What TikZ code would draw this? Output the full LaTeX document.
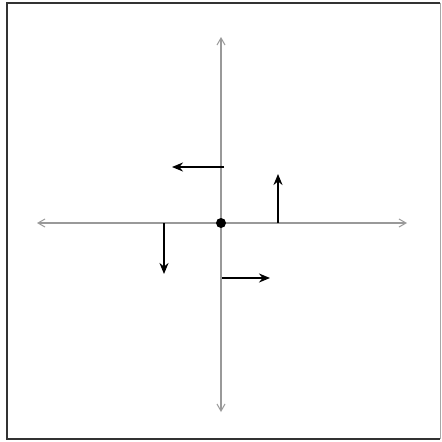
\documentclass[tikz,border=0pt]{standalone}
\usetikzlibrary{arrows.meta}
\begin{document}
\begin{tikzpicture}[x=1pt,y=-1pt,
  axis/.style={draw=black!40,line width=1.2pt,{Straight Barb[length=7pt,width=8pt,line width=1pt]}-{Straight Barb[length=7pt,width=8pt,line width=1pt]}},
  vec/.style={draw=black,line width=2.8pt,-{Stealth[length=11pt,width=9pt]}},
  dot/.style={circle,fill=black,inner sep=0pt,minimum size=10pt}]
\useasboundingbox (0,0) rectangle (442,442);
\fill[white] (0,0) rectangle (442,442);
\draw[black!80,line width=2pt] (440,2.5) -- (7,2.5) -- (7,439) -- (440,439);
\draw[black!35,line width=1pt] (440,2.5) -- (440,439);
% axes
\coordinate (xl) at (37,223);
\coordinate (xr) at (407,223);
\coordinate (yt) at (221,37);
\coordinate (yb) at (221,412);
\draw[axis] (xl) -- (xr);
\draw[axis] (yt) -- (yb);
\node[dot] (o) at (221,223) {};
% vectors
\coordinate (a1) at (224,167); \coordinate (a1e) at (172,167);
\coordinate (a2) at (278,223); \coordinate (a2e) at (278,174);
\coordinate (a3) at (164,223); \coordinate (a3e) at (164,274);
\coordinate (a4) at (222,278); \coordinate (a4e) at (270,278);
\draw[vec] (a1) -- (a1e);
\draw[vec] (a2) -- (a2e);
\draw[vec] (a3) -- (a3e);
\draw[vec] (a4) -- (a4e);
\end{tikzpicture}
\end{document}
